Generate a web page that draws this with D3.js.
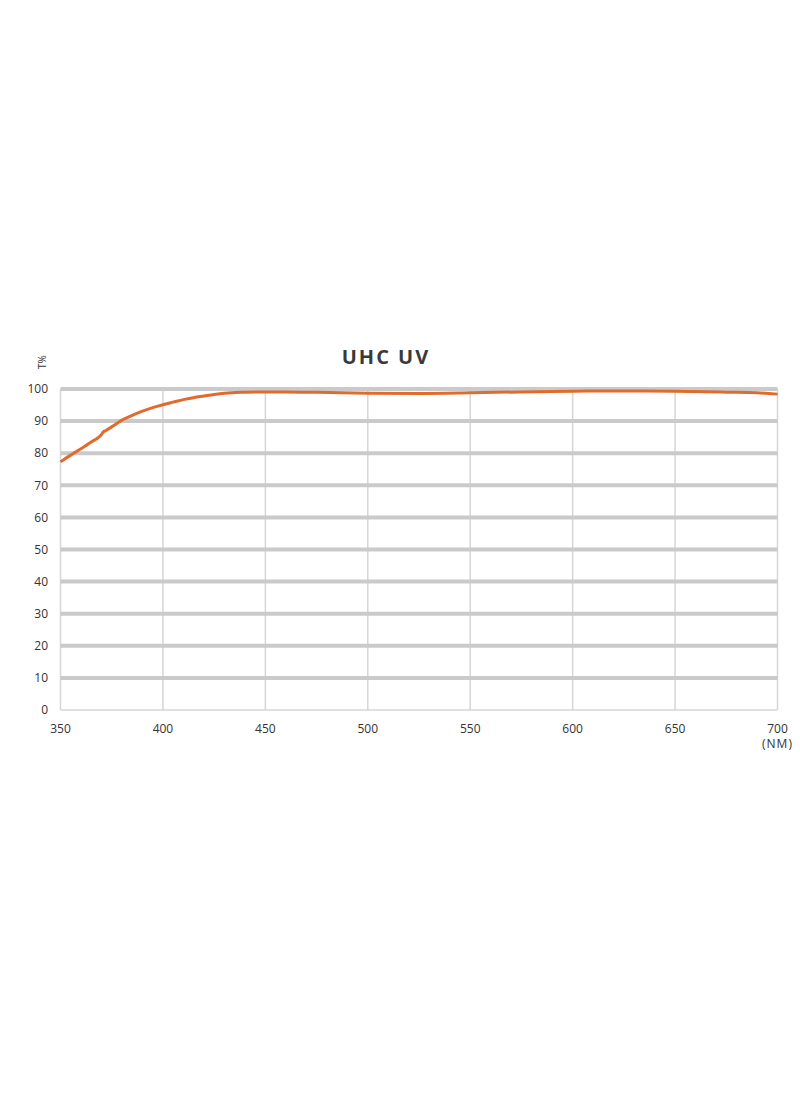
<!DOCTYPE html>
<html>
<head>
<meta charset="utf-8">
<script src="https://cdn.jsdelivr.net/npm/d3@7"></script>
<style>
  body { margin: 0; background: #fff; }
  svg { display: block; }
</style>
</head>
<body>
<div id="chart"></div>
<script>
// transmission curve
var wavelengths = [350, 355, 360, 365, 370, 371, 372, 375, 380, 385, 390, 395, 400, 405, 410, 415, 420, 425, 430, 440, 450, 460, 475, 500, 525, 550, 575, 600, 625, 650, 675, 690, 700];
var transmission = [77.3, 79.4, 81.4, 83.5, 85.8, 86.7, 87.0, 88.2, 90.3, 91.8, 93.1, 94.2, 95.1, 95.9, 96.7, 97.3, 97.8, 98.3, 98.7, 99.0, 99.1, 99.1, 99.0, 98.7, 98.6, 98.8, 99.1, 99.3, 99.4, 99.3, 99.0, 98.8, 98.4];
var xTicks = [350, 400, 450, 500, 550, 600, 650, 700];
var yTicks = [0, 10, 20, 30, 40, 50, 60, 70, 80, 90, 100];

var W = 800, H = 1096;
var plotLeft = 60.5, plotRight = 777.5, plotTop = 389, plotBottom = 710;

var svg = d3.select("#chart").append("svg")
  .attr("width", W)
  .attr("height", H);

var x = d3.scaleLinear().domain([350, 700]).range([plotLeft, plotRight]);
var y = d3.scaleLinear().domain([0, 100]).range([plotBottom, plotTop]);

// vertical grid
svg.append("g")
  .selectAll("line")
  .data(xTicks)
  .enter().append("line")
  .attr("x1", function (d) { return x(d); })
  .attr("x2", function (d) { return x(d); })
  .attr("y1", y(100))
  .attr("y2", y(0))
  .style("stroke", "#d6d6d6")
  .style("stroke-width", "1.5px");

// horizontal grid, thick bands except the baseline
svg.append("g")
  .selectAll("line")
  .data(yTicks)
  .enter().append("line")
  .attr("x1", plotLeft)
  .attr("x2", plotRight)
  .attr("y1", function (d) { return y(d); })
  .attr("y2", function (d) { return y(d); })
  .style("stroke", function (d) { return d === 0 ? "#d6d6d6" : "#cacaca"; })
  .style("stroke-width", function (d) { return d === 0 ? "1.5px" : "4px"; });

// y tick labels
svg.append("g")
  .selectAll("text")
  .data(yTicks)
  .enter().append("text")
  .attr("x", 48)
  .attr("y", function (d) { return y(d); })
  .attr("dy", "0.35em")
  .attr("text-anchor", "end")
  .style("font-family", "'Open Sans', sans-serif")
  .style("font-size", "12px")
  .style("fill", "#333")
  .text(function (d) { return d; });

// x tick labels
svg.append("g")
  .selectAll("text")
  .data(xTicks)
  .enter().append("text")
  .attr("x", function (d) { return x(d); })
  .attr("y", 733)
  .attr("text-anchor", "middle")
  .style("font-family", "'Open Sans', sans-serif")
  .style("font-size", "12px")
  .style("fill", "#333")
  .text(function (d) { return d; });

svg.append("text")
  .attr("x", x(700))
  .attr("y", 748)
  .attr("text-anchor", "middle")
  .style("font-family", "'Open Sans', sans-serif")
  .style("font-size", "12px")
  .style("letter-spacing", "1px")
  .style("fill", "#333")
  .text("(NM)");

// axis title
svg.append("text")
  .attr("transform", "translate(46,362) rotate(-90)")
  .attr("text-anchor", "middle")
  .style("font-family", "'Open Sans', sans-serif")
  .style("font-size", "10px")
  .style("fill", "#333")
  .text("T%");

// chart title
svg.append("text")
  .attr("x", 386)
  .attr("y", 364)
  .attr("text-anchor", "middle")
  .style("font-family", "'Open Sans', sans-serif")
  .style("font-weight", "bold")
  .style("font-size", "20px")
  .style("letter-spacing", "2px")
  .style("fill", "#3a3a3a")
  .text("UHC UV");

// curve
var pts = wavelengths.map(function (w, i) { return [w, transmission[i]]; });
var line = d3.line()
  .x(function (d) { return x(d[0]); })
  .y(function (d) { return y(d[1]); })
  .curve(d3.curveMonotoneX);

svg.append("path")
  .datum(pts)
  .attr("d", line)
  .style("fill", "none")
  .style("stroke", "#e26a2c")
  .style("stroke-width", "3px")
  .style("stroke-linejoin", "round");
</script>
</body>
</html>
